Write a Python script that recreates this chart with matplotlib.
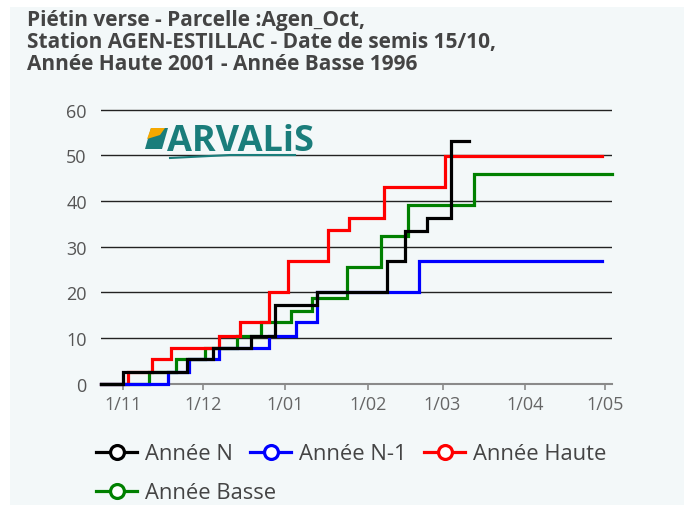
import pandas as pd
import matplotlib
matplotlib.use('Agg')
import matplotlib.pyplot as plt
from matplotlib.lines import Line2D
from matplotlib.patches import Rectangle, Polygon

plt.rcParams['font.family'] = ['Open Sans', 'DejaVu Sans']

# =============================
# DATA (cumulative risk index, step changes)
# =============================
n_dates = ['2022-10-24', '2022-11-01', '2022-11-25', '2022-12-05', '2022-12-19', '2022-12-28',
           '2023-01-13', '2023-02-08', '2023-02-15', '2023-02-23', '2023-03-04', '2023-03-11']
n_values = [0, 2.6, 5.3, 7.8, 10.4, 17.3, 20.1, 26.8, 33.5, 36.3, 53.2, 53.2]

n1_dates = ['2022-10-24', '2022-11-18', '2022-11-26', '2022-12-07', '2022-12-26', '2023-01-05',
            '2023-01-13', '2023-02-20', '2023-04-30']
n1_values = [0, 2.6, 5.3, 7.8, 10.4, 13.4, 20.1, 26.8, 26.8]

haute_dates = ['2022-10-24', '2022-11-03', '2022-11-12', '2022-11-19', '2022-12-07', '2022-12-15',
               '2022-12-26', '2023-01-02', '2023-01-17', '2023-01-25', '2023-02-07', '2023-03-02',
               '2023-04-30']
haute_values = [0, 2.6, 5.3, 7.8, 10.4, 13.4, 20.0, 26.8, 33.6, 36.3, 43.0, 49.9, 49.9]

basse_dates = ['2022-10-24', '2022-11-11', '2022-11-21', '2022-12-02', '2022-12-14', '2022-12-23',
               '2023-01-03', '2023-01-11', '2023-01-24', '2023-02-06', '2023-02-16', '2023-03-13',
               '2023-05-03T14:00']
basse_values = [0, 2.6, 5.3, 7.8, 10.4, 13.4, 15.9, 18.8, 25.6, 32.3, 39.0, 45.9, 45.9]

tick_dates = ['2022-11-01', '2022-12-01', '2023-01-01', '2023-02-01', '2023-03-01', '2023-04-01', '2023-05-01']
tick_labels = ['1/11', '1/12', '1/01', '1/02', '1/03', '1/04', '1/05']
y_ticks = [0, 10, 20, 30, 40, 50, 60]

title = ("Piétin verse - Parcelle :Agen_Oct,\n"
         "Station AGEN-ESTILLAC - Date de semis 15/10,\n"
         "Année Haute 2001 - Année Basse 1996")

# =============================
# FIGURE
# =============================
fig = plt.figure(figsize=(6.84, 5.06), dpi=100, facecolor='white')
bg = '#f3f8f9'
fig.patches.append(Rectangle((10 / 684, 0), 1, 1 - 8 / 506, transform=fig.transFigure,
                             facecolor=bg, edgecolor='none', zorder=-10))

ax = fig.add_axes([0.1472, 0.2401, 0.7475, 0.5460])
ax.set_facecolor(bg)

series = [
    ('Année Basse', basse_dates, basse_values, '#008000', 3),
    ('Année Haute', haute_dates, haute_values, '#ff0000', 4),
    ('Année N-1', n1_dates, n1_values, '#0000ff', 5),
    ('Année N', n_dates, n_values, '#000000', 6),
]
for name, d, v, c, z in series:
    ax.step(pd.to_datetime(d, format='ISO8601'), v, where='post', color=c, lw=2.3, zorder=z,
            solid_joinstyle='miter', clip_on=False)

ax.set_xlim(pd.Timestamp('2022-10-23 18:00'), pd.Timestamp('2023-05-03 14:00'))
ax.set_ylim(0, 60.5)
ax.set_xticks(pd.to_datetime(tick_dates))
ax.set_xticklabels(tick_labels)
ax.set_yticks(y_ticks)

ax.grid(axis='y', color='#222222', lw=1.0)
ax.set_axisbelow(True)
for s in ['top', 'right', 'left']:
    ax.spines[s].set_visible(False)
ax.spines['bottom'].set_color('#8a8a8a')
ax.spines['bottom'].set_linewidth(1.5)
ax.tick_params(axis='y', length=0, pad=10, labelsize=13, labelcolor='#555555')
ax.tick_params(axis='x', length=4.5, width=1.2, color='#8a8a8a', pad=4,
               labelsize=13, labelcolor='#666666')

# title
fig.text(27 / 684, 1 - 10 / 506, title, ha='left', va='top', fontsize=15,
         fontweight='bold', color='#444444', linespacing=1.06)

# logo
fig.text(167 / 684, 1 - 151 / 506, 'ARVALiS', ha='left', va='baseline', fontsize=26,
         fontweight='bold', color='#1a7d7b')
fig.patches.append(Polygon([(145 / 684, 1 - 150 / 506), (151 / 684, 1 - 129 / 506),
                            (168 / 684, 1 - 129 / 506), (162 / 684, 1 - 150 / 506)],
                           closed=True, transform=fig.transFigure, facecolor='#1a7d7b',
                           edgecolor='none'))
fig.patches.append(Polygon([(147 / 684, 1 - 140 / 506), (151 / 684, 1 - 129 / 506),
                            (165 / 684, 1 - 129 / 506), (160 / 684, 1 - 136 / 506)],
                           closed=True, transform=fig.transFigure, facecolor='#f5a800',
                           edgecolor='none'))
fig.lines.append(Line2D([170 / 684, 230 / 684, 295 / 684], [1 - 159 / 506, 1 - 156 / 506, 1 - 156 / 506],
                        transform=fig.transFigure, color='#1a7d7b', lw=1.5))

# legend
def handle(c):
    return Line2D([], [], color=c, lw=2.3, marker='o', markersize=10,
                  markerfacecolor='white', markeredgecolor=c, markeredgewidth=2.3)

leg_kw = dict(frameon=False, fontsize=15.8, handlelength=1.87, handletextpad=0.37,
              columnspacing=0.78, borderpad=0, borderaxespad=0, labelcolor='#444444')
fig.legend([handle('#000000'), handle('#0000ff'), handle('#ff0000')],
           ['Année N', 'Année N-1', 'Année Haute'], ncol=3, loc='center left',
           bbox_to_anchor=(96 / 684, (506 - 455) / 506), **leg_kw)
fig.legend([handle('#008000')], ['Année Basse'], loc='center left',
           bbox_to_anchor=(96 / 684, (506 - 494) / 506), **leg_kw)

fig.savefig('out.png', dpi=100, facecolor='white')
